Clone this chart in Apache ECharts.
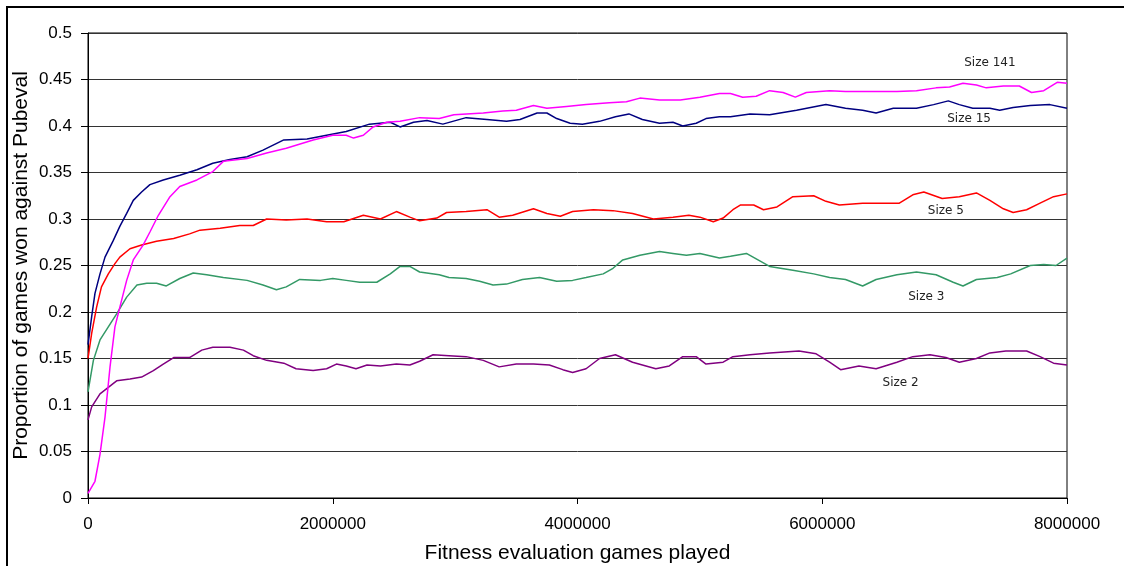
<!DOCTYPE html>
<html>
<head>
<meta charset="utf-8">
<script src="https://cdn.jsdelivr.net/npm/echarts@6/dist/echarts.min.js"></script>
<style>
html,body{margin:0;padding:0;background:#fff;}
#chart{width:1124px;height:566px;}
</style>
</head>
<body>
<div id="chart"></div>
<script>
// x values in millions of games, y = proportion won
const size141 = [[0,0.005],[0.057,0.018],[0.098,0.047],[0.139,0.087],[0.18,0.141],[0.22,0.184],[0.26,0.205],[0.316,0.234],[0.37,0.256],[0.45,0.272],[0.506,0.286],[0.575,0.304],[0.67,0.324],[0.75,0.335],[0.89,0.342],[1.02,0.351],[1.106,0.362],[1.30,0.365],[1.46,0.371],[1.62,0.376],[1.84,0.385],[2.0,0.39],[2.11,0.39],[2.17,0.387],[2.25,0.39],[2.33,0.399],[2.44,0.404],[2.55,0.405],[2.71,0.409],[2.87,0.408],[2.99,0.412],[3.23,0.414],[3.39,0.416],[3.50,0.417],[3.64,0.422],[3.75,0.419],[3.91,0.421],[4.07,0.423],[4.26,0.425],[4.40,0.426],[4.51,0.43],[4.67,0.428],[4.84,0.428],[5.0,0.431],[5.16,0.435],[5.25,0.435],[5.35,0.431],[5.46,0.432],[5.57,0.438],[5.68,0.436],[5.78,0.431],[5.87,0.436],[6.06,0.438],[6.19,0.437],[6.39,0.437],[6.61,0.437],[6.77,0.438],[6.93,0.441],[7.04,0.442],[7.15,0.446],[7.26,0.444],[7.34,0.441],[7.48,0.443],[7.61,0.443],[7.71,0.436],[7.81,0.438],[7.92,0.447],[8.0,0.446]];
const size15 = [[0,0.165],[0.03,0.195],[0.057,0.22],[0.098,0.241],[0.139,0.259],[0.207,0.277],[0.26,0.292],[0.316,0.306],[0.37,0.32],[0.438,0.329],[0.506,0.337],[0.615,0.342],[0.75,0.347],[0.89,0.353],[1.02,0.36],[1.16,0.364],[1.30,0.367],[1.43,0.374],[1.60,0.385],[1.79,0.386],[1.95,0.39],[2.11,0.394],[2.30,0.402],[2.47,0.404],[2.55,0.399],[2.66,0.404],[2.77,0.406],[2.90,0.402],[3.09,0.409],[3.26,0.407],[3.42,0.405],[3.53,0.407],[3.67,0.414],[3.75,0.414],[3.83,0.408],[3.94,0.403],[4.04,0.402],[4.18,0.405],[4.31,0.41],[4.42,0.413],[4.53,0.407],[4.67,0.403],[4.78,0.404],[4.86,0.40],[4.97,0.403],[5.05,0.408],[5.16,0.41],[5.25,0.41],[5.41,0.413],[5.57,0.412],[5.79,0.417],[6.03,0.423],[6.19,0.419],[6.33,0.417],[6.44,0.414],[6.58,0.419],[6.77,0.419],[6.91,0.423],[7.03,0.427],[7.12,0.423],[7.23,0.419],[7.37,0.419],[7.45,0.417],[7.56,0.42],[7.70,0.422],[7.86,0.423],[8.0,0.419]];
const size5 = [[0,0.15],[0.03,0.177],[0.07,0.205],[0.11,0.227],[0.166,0.241],[0.22,0.252],[0.26,0.259],[0.343,0.268],[0.438,0.272],[0.56,0.276],[0.70,0.279],[0.83,0.284],[0.915,0.288],[1.08,0.29],[1.24,0.293],[1.35,0.293],[1.46,0.30],[1.62,0.299],[1.79,0.30],[1.95,0.297],[2.09,0.297],[2.25,0.304],[2.39,0.30],[2.52,0.308],[2.63,0.302],[2.71,0.298],[2.85,0.301],[2.93,0.307],[3.09,0.308],[3.26,0.31],[3.36,0.302],[3.47,0.304],[3.64,0.311],[3.75,0.306],[3.86,0.303],[3.96,0.308],[4.13,0.31],[4.29,0.309],[4.45,0.306],[4.62,0.30],[4.78,0.302],[4.91,0.304],[5.0,0.302],[5.11,0.297],[5.19,0.301],[5.27,0.31],[5.33,0.315],[5.44,0.315],[5.52,0.31],[5.63,0.313],[5.76,0.324],[5.93,0.325],[6.03,0.319],[6.14,0.315],[6.33,0.317],[6.47,0.317],[6.63,0.317],[6.74,0.326],[6.83,0.329],[6.98,0.322],[7.12,0.324],[7.26,0.328],[7.37,0.32],[7.48,0.311],[7.56,0.307],[7.67,0.31],[7.78,0.317],[7.89,0.324],[8.0,0.327]];
const size3 = [[0,0.114],[0.044,0.148],[0.098,0.17],[0.166,0.184],[0.234,0.198],[0.316,0.216],[0.40,0.229],[0.48,0.231],[0.56,0.231],[0.64,0.228],[0.75,0.236],[0.86,0.242],[0.97,0.24],[1.106,0.237],[1.30,0.234],[1.43,0.229],[1.54,0.224],[1.62,0.227],[1.73,0.235],[1.90,0.234],[2.0,0.236],[2.11,0.234],[2.22,0.232],[2.36,0.232],[2.47,0.241],[2.55,0.249],[2.63,0.249],[2.71,0.243],[2.87,0.24],[2.95,0.237],[3.09,0.236],[3.20,0.233],[3.31,0.229],[3.42,0.23],[3.55,0.235],[3.69,0.237],[3.83,0.233],[3.96,0.234],[4.07,0.237],[4.21,0.241],[4.29,0.247],[4.37,0.256],[4.51,0.261],[4.67,0.265],[4.78,0.263],[4.89,0.261],[5.0,0.263],[5.16,0.258],[5.25,0.26],[5.38,0.263],[5.57,0.249],[5.76,0.245],[5.93,0.241],[6.06,0.237],[6.19,0.235],[6.33,0.228],[6.44,0.235],[6.61,0.24],[6.77,0.243],[6.93,0.24],[7.07,0.232],[7.15,0.228],[7.26,0.235],[7.43,0.237],[7.54,0.241],[7.70,0.25],[7.81,0.251],[7.91,0.25],[8.0,0.258]];
const size2 = [[0,0.084],[0.03,0.098],[0.098,0.112],[0.166,0.119],[0.234,0.126],[0.343,0.128],[0.438,0.13],[0.534,0.137],[0.615,0.144],[0.70,0.151],[0.83,0.151],[0.93,0.159],[1.02,0.162],[1.16,0.162],[1.27,0.159],[1.35,0.153],[1.46,0.148],[1.60,0.145],[1.70,0.139],[1.84,0.137],[1.95,0.139],[2.03,0.144],[2.11,0.142],[2.19,0.139],[2.28,0.143],[2.39,0.142],[2.52,0.144],[2.63,0.143],[2.71,0.147],[2.82,0.154],[2.95,0.153],[3.09,0.152],[3.23,0.148],[3.36,0.141],[3.50,0.144],[3.64,0.144],[3.77,0.143],[3.88,0.138],[3.96,0.135],[4.07,0.139],[4.18,0.15],[4.31,0.154],[4.45,0.146],[4.64,0.139],[4.75,0.142],[4.86,0.152],[4.97,0.152],[5.05,0.144],[5.19,0.146],[5.27,0.152],[5.41,0.154],[5.57,0.156],[5.81,0.158],[5.95,0.155],[6.06,0.146],[6.15,0.138],[6.30,0.142],[6.44,0.139],[6.61,0.146],[6.74,0.152],[6.88,0.154],[7.01,0.151],[7.12,0.146],[7.26,0.15],[7.37,0.156],[7.50,0.158],[7.67,0.158],[7.78,0.152],[7.89,0.145],[8.0,0.143]];
const seriesNames = ['Size 141','Size 15','Size 5','Size 3','Size 2'];
const xTicks = [0, 2000000, 4000000, 6000000, 8000000];

const toGames = arr => arr.map(p => [p[0] * 1e6, p[1]]);
const allData = [size141, size15, size5, size3, size2];
const colors = ['#FF00FF', '#000080', '#FF0000', '#339966', '#800080'];
// label anchor positions (data coordinates)
const labelAt = [[7.37e6, 0.468], [7.20e6, 0.4075], [7.01e6, 0.3086], [6.85e6, 0.2165], [6.64e6, 0.1237]];

const chart = echarts.init(document.getElementById('chart'), null, {renderer: 'canvas'});
chart.setOption({
  animation: false,
  backgroundColor: '#fff',
  grid: {left: 88, right: 57, top: 33, bottom: 68, containLabel: false, outerBoundsMode: 'none',
    show: true, borderColor: '#000', borderWidth: 1, backgroundColor: 'transparent'},
  xAxis: {
    type: 'value', min: 0, max: 8000000, interval: 2000000,
    name: 'Fitness evaluation games played', nameLocation: 'middle', nameGap: 45, nameMoveOverlap: false,
    nameTextStyle: {fontFamily: 'Liberation Sans', fontSize: 21, color: '#000'},
    axisLine: {show: true, lineStyle: {color: '#000', width: 1}},
    axisTick: {show: true, length: 6, lineStyle: {color: '#000'}},
    axisLabel: {fontFamily: 'Liberation Sans', fontSize: 17, color: '#000', margin: 18,
      formatter: v => String(Math.round(v))},
    splitLine: {show: false}
  },
  yAxis: {
    type: 'value', min: 0, max: 0.5, interval: 0.05,
    name: 'Proportion of games won against Pubeval', nameLocation: 'middle', nameGap: 56, nameMoveOverlap: false,
    nameTextStyle: {fontFamily: 'Liberation Sans', fontSize: 21, color: '#000'},
    axisLine: {show: true, lineStyle: {color: '#000', width: 1}},
    axisTick: {show: true, length: 7, lineStyle: {color: '#000'}},
    axisLabel: {fontFamily: 'Liberation Sans', fontSize: 17, color: '#000', margin: 16,
      formatter: v => String(+v.toFixed(2))},
    splitLine: {show: true, lineStyle: {color: '#333', width: 1}}
  },
  graphic: [{type: 'rect', shape: {x: 7, y: 7, width: 1130, height: 570},
    style: {fill: 'none', stroke: '#000', lineWidth: 2}, silent: true, z: 100}],
  series: allData.map((d, i) => ({
    name: seriesNames[i], type: 'line', data: toGames(d), showSymbol: false, symbol: 'none',
    lineStyle: {color: colors[i], width: 1.5}, itemStyle: {color: colors[i]},
    z: 10 - i,
    markPoint: {
      silent: true, symbol: 'circle', symbolSize: 0,
      data: [{coord: labelAt[i], value: seriesNames[i]}],
      label: {show: true, position: 'inside', formatter: seriesNames[i],
        fontFamily: 'DejaVu Sans', fontSize: 12, color: '#222'}
    }
  }))
});
</script>
</body>
</html>
